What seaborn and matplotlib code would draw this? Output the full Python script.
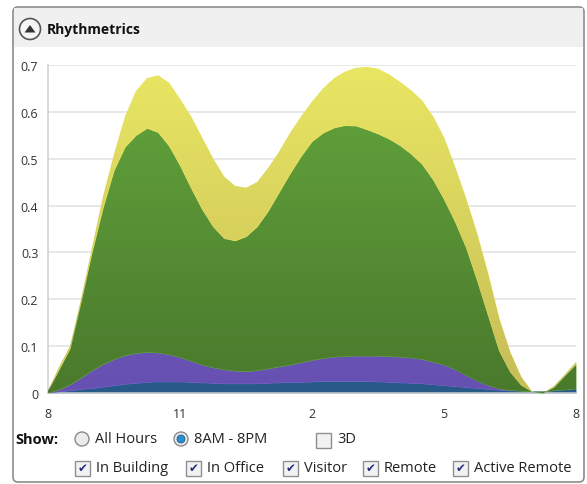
"""
rhythmetrics.py
stacked area of occupancy over the working day (8AM - 8PM)
"""
import matplotlib
matplotlib.use("Agg")
import matplotlib.pyplot as plt
import seaborn as sns
import numpy as np
from matplotlib.patches import Rectangle, FancyBboxPatch, Circle, Polygon
from matplotlib.colors import LinearSegmentedColormap

# quarter hour steps from 8AM to 8PM
hours = [8.0, 8.25, 8.5, 8.75, 9.0, 9.25, 9.5, 9.75, 10.0, 10.25, 10.5, 10.75,
         11.0, 11.25, 11.5, 11.75, 12.0, 12.25, 12.5, 12.75, 13.0, 13.25, 13.5, 13.75,
         14.0, 14.25, 14.5, 14.75, 15.0, 15.25, 15.5, 15.75, 16.0, 16.25, 16.5, 16.75,
         17.0, 17.25, 17.5, 17.75, 18.0, 18.25, 18.5, 18.75, 19.0, 19.25, 19.5, 19.75, 20.0]

# stacked top of each layer, bottom to top
blue_top = [0.0, 0.003, 0.005, 0.008, 0.01, 0.013, 0.016, 0.019, 0.021, 0.023, 0.024, 0.024,
            0.024, 0.023, 0.022, 0.021, 0.02, 0.02, 0.02, 0.02, 0.021, 0.022, 0.023, 0.023,
            0.024, 0.025, 0.025, 0.025, 0.025, 0.025, 0.024, 0.023, 0.022, 0.021, 0.02, 0.018,
            0.016, 0.014, 0.012, 0.01, 0.008, 0.006, 0.005, 0.004, 0.003, 0.003, 0.005, 0.007, 0.009]
purple_top = [0.0, 0.007, 0.018, 0.032, 0.048, 0.061, 0.072, 0.08, 0.085, 0.087, 0.086, 0.082,
              0.076, 0.068, 0.06, 0.054, 0.05, 0.047, 0.046, 0.048, 0.052, 0.056, 0.06, 0.065,
              0.07, 0.074, 0.077, 0.078, 0.079, 0.079, 0.079, 0.078, 0.077, 0.075, 0.072, 0.066,
              0.06, 0.05, 0.038, 0.026, 0.016, 0.009, 0.006, 0.004, 0.003, 0.003, 0.005, 0.007, 0.009]
green_top = [0.005, 0.05, 0.095, 0.195, 0.3, 0.395, 0.475, 0.525, 0.55, 0.565, 0.556, 0.527,
             0.485, 0.437, 0.392, 0.355, 0.33, 0.325, 0.334, 0.355, 0.388, 0.428, 0.468, 0.505,
             0.537, 0.555, 0.566, 0.571, 0.57, 0.562, 0.553, 0.542, 0.528, 0.51, 0.488, 0.455,
             0.413, 0.365, 0.31, 0.24, 0.165, 0.09, 0.045, 0.017, 0.003, 0.0, 0.013, 0.038, 0.062]
yellow_top = [0.005, 0.055, 0.1, 0.2, 0.31, 0.42, 0.51, 0.59, 0.645, 0.672, 0.678, 0.662,
              0.627, 0.59, 0.545, 0.5, 0.462, 0.442, 0.438, 0.45, 0.48, 0.515, 0.555, 0.59,
              0.622, 0.65, 0.672, 0.686, 0.694, 0.696, 0.692, 0.68, 0.664, 0.646, 0.624, 0.59,
              0.545, 0.482, 0.415, 0.34, 0.255, 0.16, 0.088, 0.035, 0.003, 0.0, 0.015, 0.04, 0.066]

xticks = [8, 11, 14, 17, 20]
xlabels = ["8", "11", "2", "5", "8"]
yticks = [0, 0.1, 0.2, 0.3, 0.4, 0.5, 0.6, 0.7]
ylabels = ["0", "0.1", "0.2", "0.3", "0.4", "0.5", "0.6", "0.7"]

show_opts = ["All Hours", "8AM - 8PM"]
series_names = ["In Building", "In Office", "Visitor", "Remote", "Active Remote"]

sns.set_theme(style="white")
plt.rcParams['font.family'] = ['Open Sans', 'DejaVu Sans']

fig = plt.figure(figsize=(5.87, 4.85), dpi=100)

# panel chrome drawn in pixel coords
ui = fig.add_axes([0, 0, 1, 1])
ui.set_xlim(0, 587)
ui.set_ylim(485, 0)
ui.axis("off")
ui.add_patch(FancyBboxPatch((13, 8), 571, 475, boxstyle="round,pad=0,rounding_size=5",
                            fc="white", ec="#8c8c8c", lw=1.2))
ui.add_patch(Rectangle((14, 9), 569, 39, fc="#f0f0f0", ec="none"))
ui.add_patch(Circle((30, 30), 10.5, fc="#f5f5f5", ec="#555555", lw=1.2))
ui.add_patch(Polygon([(24.5, 33.5), (35.5, 33.5), (30, 26)], closed=True, fc="#333333", ec="none"))
ui.text(47, 30, "Rhythmetrics", fontsize=10, fontweight="bold", va="center", color="#111111")

# controls row 1
row1 = 440
ui.text(15, row1, "Show:", fontsize=10.5, fontweight="bold", va="center", color="#111111")
for cx, tx, label, on in [(82, 95, show_opts[0], False), (181, 194, show_opts[1], True)]:
    ui.add_patch(Circle((cx, row1), 7, fc="#ececec", ec="#8a8a8a", lw=1))
    if on:
        ui.add_patch(Circle((cx, row1), 4, fc="#2b8fcf", ec="#1d5f8a", lw=0.6))
    ui.text(tx, row1, label, fontsize=10.5, va="center", color="#222222")


def checkbox(x, y, checked):
    ui.add_patch(Rectangle((x, y - 7.5), 15, 15, fc="#f2f2f2", ec="#8f8f8f", lw=1))
    if checked:
        ui.text(x + 7.5, y, "\u2714", fontsize=8.5, ha="center", va="center",
                color="#2a2a80", family=["DejaVu Sans"])


checkbox(316, 441, False)
ui.text(337, row1, "3D", fontsize=10.5, va="center", color="#222222")

row2 = 469
for bx, name in zip([75, 186, 283, 363, 453], series_names):
    checkbox(bx, row2, True)
    ui.text(bx + 21, row2, name, fontsize=10.5, va="center", color="#222222")

# chart
ax = fig.add_axes([48 / 587, 1 - 394 / 485, 528 / 587, 328 / 485])
ax.set_facecolor("white")

layers = [
    (blue_top, "#2d6aa0", "#285a88"),
    (purple_top, "#7b62d4", "#6650b0"),
    (green_top, "#64a63d", "#4a792c"),
    (yellow_top, "#e9e663", "#c6bd57"),
]

base = np.zeros(len(hours))
z = 2
for tops, top_c, bot_c in layers:
    upper = np.array(tops)
    poly = ax.fill_between(hours, base, upper, color=top_c, lw=0, zorder=z)
    cmap = LinearSegmentedColormap.from_list("g", [bot_c, top_c])
    grad = np.linspace(0, 1, 256).reshape(-1, 1)
    im = ax.imshow(grad, extent=[8, 20, 0, 0.7], origin="lower", aspect="auto",
                   cmap=cmap, zorder=z + 0.5)
    im.set_clip_path(poly.get_paths()[0], transform=ax.transData)
    base = upper
    z += 1

ax.set_xlim(8, 20)
ax.set_ylim(0, 0.7)
ax.set_xticks(xticks)
ax.set_xticklabels(xlabels)
ax.set_yticks(yticks)
ax.set_yticklabels(ylabels)
ax.yaxis.grid(True, color="#e2e2e2", lw=1.1, zorder=0)
ax.set_axisbelow(True)
for s in ["top", "right"]:
    ax.spines[s].set_visible(False)
for s in ["left", "bottom"]:
    ax.spines[s].set_color("#cfcfcf")
    ax.spines[s].set_linewidth(1.1)
ax.tick_params(axis="both", direction="out", length=4, width=1, color="#c4c4c4",
               labelsize=9, labelcolor="#333333", pad=3)
ax.tick_params(axis="x", pad=6)

plt.savefig("out.png", dpi=100)
